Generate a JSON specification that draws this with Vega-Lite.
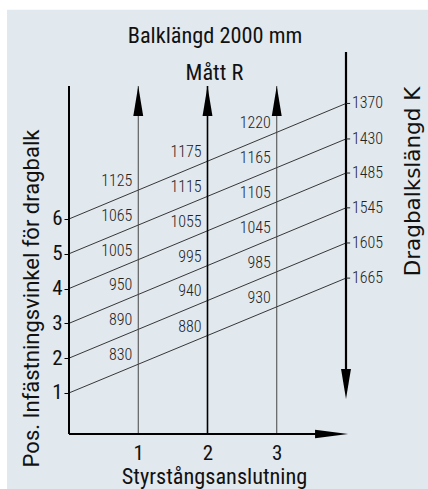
{
  "$schema": "https://vega.github.io/schema/vega-lite/v6.json",
  "width": 277,
  "height": 389,
  "autosize": {"type": "none"},
  "padding": {"left": 69, "top": 45, "right": 82, "bottom": 55},
  "background": "#ffffff",
  "config": {
    "view": {"stroke": null},
    "axis": {"grid": false, "zindex": 2},
    "font": "Roboto Condensed, Roboto, sans-serif"
  },
  "resolve": {"axis": {"x": "independent", "y": "independent"}},
  "datasets": {
    "lines": [
      {"pos": 1, "K": 1665, "ky": 4.30},
      {"pos": 2, "K": 1605, "ky": 5.31},
      {"pos": 3, "K": 1545, "ky": 6.32},
      {"pos": 4, "K": 1485, "ky": 7.32},
      {"pos": 5, "K": 1430, "ky": 8.30},
      {"pos": 6, "K": 1370, "ky": 9.32}
    ],
    "labels": [
      {"col": 1, "pos": 1, "R": 830, "yAt": 1.83},
      {"col": 2, "pos": 1, "R": 880, "yAt": 2.65},
      {"col": 3, "pos": 1, "R": 930, "yAt": 3.48},
      {"col": 1, "pos": 2, "R": 890, "yAt": 2.83},
      {"col": 2, "pos": 2, "R": 940, "yAt": 3.66},
      {"col": 3, "pos": 2, "R": 985, "yAt": 4.48},
      {"col": 1, "pos": 3, "R": 950, "yAt": 3.83},
      {"col": 2, "pos": 3, "R": 995, "yAt": 4.66},
      {"col": 3, "pos": 3, "R": 1045, "yAt": 5.49},
      {"col": 1, "pos": 4, "R": 1005, "yAt": 4.83},
      {"col": 2, "pos": 4, "R": 1055, "yAt": 5.66},
      {"col": 3, "pos": 4, "R": 1105, "yAt": 6.49},
      {"col": 1, "pos": 5, "R": 1065, "yAt": 5.83},
      {"col": 2, "pos": 5, "R": 1115, "yAt": 6.65},
      {"col": 3, "pos": 5, "R": 1165, "yAt": 7.48},
      {"col": 1, "pos": 6, "R": 1125, "yAt": 6.83},
      {"col": 2, "pos": 6, "R": 1175, "yAt": 7.66},
      {"col": 3, "pos": 6, "R": 1220, "yAt": 8.49}
    ],
    "columns": [{"c": 1}, {"c": 2}, {"c": 3}],
    "one": [{}]
  },
  "layer": [
    {
      "data": {"name": "one"},
      "mark": {"type": "rect", "color": "#e1e8ee"},
      "encoding": {
        "x": {"datum": -0.895, "type": "quantitative", "scale": {"domain": [0, 4], "nice": false, "zero": false}, "axis": null},
        "x2": {"datum": 5.4},
        "y": {"datum": -1.8, "type": "quantitative", "scale": {"domain": [-0.18, 11], "nice": false, "zero": false}, "axis": null},
        "y2": {"datum": 12.01}
      }
    },
    {
      "data": {"name": "lines"},
      "mark": {"type": "rule", "color": "#222222", "strokeWidth": 0.9},
      "encoding": {
        "x": {"datum": 0, "type": "quantitative", "axis": null},
        "x2": {"datum": 4},
        "y": {
          "field": "pos", "type": "quantitative",
          "axis": {
            "values": [1, 2, 3, 4, 5, 6], "format": "d", "zindex": 2,
            "domain": false, "ticks": true, "tickSize": 5, "tickColor": "#000000", "tickWidth": 1,
            "labelFontSize": 21, "labelColor": "#111111", "labelPadding": 2,
            "title": "Pos. Infästningsvinkel för dragbalk",
            "titleFont": "Roboto", "titleFontSize": 22, "titleFontWeight": "normal", "titleColor": "#111111",
            "titleAngle": 270, "titleX": -38, "titleY": 253, "titleAlign": "center", "titleBaseline": "middle"
          }
        },
        "y2": {"field": "ky"}
      }
    },
    {
      "data": {"name": "columns"},
      "mark": {"type": "rule"},
      "encoding": {
        "x": {
          "field": "c", "type": "quantitative",
          "axis": {
            "values": [1, 2, 3], "format": "d", "domain": false, "ticks": false, "zindex": 2,
            "labelPadding": 8, "labelFontSize": 21, "labelColor": "#111111",
            "title": "Styrstångsanslutning", "titleFontSize": 22.3, "titleFontWeight": "normal",
            "titleColor": "#111111", "titlePadding": 2, "titleX": 145
          }
        },
        "y": {"datum": -0.18, "type": "quantitative", "axis": null},
        "y2": {"datum": 9.82},
        "color": {"condition": {"test": "datum.c === 2", "value": "#000000"}, "value": "#444444"},
        "strokeWidth": {"condition": {"test": "datum.c === 2", "value": 1.6}, "value": 1}
      }
    },
    {
      "data": {"name": "columns"},
      "mark": {"type": "point", "shape": "M0,0L0.33,2L-0.33,2Z", "filled": true, "color": "#000000", "opacity": 1, "size": 900, "strokeWidth": 0},
      "encoding": {
        "x": {"field": "c", "type": "quantitative", "axis": null},
        "y": {"datum": 9.82, "type": "quantitative", "axis": null}
      }
    },
    {
      "data": {"name": "one"},
      "mark": {"type": "rule", "color": "#000000", "strokeWidth": 2},
      "encoding": {
        "x": {"datum": 0, "type": "quantitative", "axis": null},
        "y": {"datum": -0.18, "type": "quantitative", "axis": null},
        "y2": {"datum": 9.82}
      }
    },
    {
      "data": {"name": "one"},
      "mark": {"type": "rule", "color": "#000000", "strokeWidth": 2},
      "encoding": {
        "x": {"datum": 0, "type": "quantitative", "axis": null},
        "x2": {"datum": 3.9},
        "y": {"datum": -0.18, "type": "quantitative", "axis": null}
      }
    },
    {
      "data": {"name": "one"},
      "mark": {"type": "point", "shape": "M0,0L-2,-0.26L-2,0.26Z", "filled": true, "color": "#000000", "opacity": 1, "size": 1089, "strokeWidth": 0},
      "encoding": {
        "x": {"datum": 4.03, "type": "quantitative", "axis": null},
        "y": {"datum": -0.18, "type": "quantitative", "axis": null}
      }
    },
    {
      "data": {"name": "one"},
      "mark": {"type": "rule", "color": "#000000", "strokeWidth": 2.2},
      "encoding": {
        "x": {"datum": 4, "type": "quantitative", "axis": null},
        "y": {"datum": 1.2, "type": "quantitative", "axis": null},
        "y2": {"datum": 10.8}
      }
    },
    {
      "data": {"name": "one"},
      "mark": {"type": "point", "shape": "M0,0L0.33,-2L-0.33,-2Z", "filled": true, "color": "#000000", "opacity": 1, "size": 900, "strokeWidth": 0},
      "encoding": {
        "x": {"datum": 4, "type": "quantitative", "axis": null},
        "y": {"datum": 0.826, "type": "quantitative", "axis": null}
      }
    },
    {
      "data": {"name": "lines"},
      "mark": {"type": "rule", "color": "#222222", "strokeWidth": 1},
      "encoding": {
        "x": {"datum": 4, "type": "quantitative", "axis": null},
        "x2": {"datum": 4.06},
        "y": {"field": "ky", "type": "quantitative", "axis": null}
      }
    },
    {
      "data": {"name": "lines"},
      "mark": {"type": "text", "align": "left", "baseline": "middle", "dx": 6, "fontSize": 16, "fontWeight": 300, "color": "#222222"},
      "encoding": {
        "x": {"datum": 4, "type": "quantitative", "axis": null},
        "y": {
          "field": "ky", "type": "quantitative",
          "axis": {
            "orient": "right", "labels": false, "ticks": false, "domain": false, "zindex": 2,
            "title": "Dragbalkslängd K", "titleFont": "DejaVu Sans", "titleFontSize": 21.5, "titleFontWeight": "normal", "titleColor": "#111111",
            "titleAngle": 270, "titleX": 67, "titleY": 136, "titleAlign": "center", "titleBaseline": "middle"
          }
        },
        "text": {"field": "K", "type": "quantitative", "format": "d"}
      }
    },
    {
      "data": {"name": "labels"},
      "mark": {"type": "text", "align": "right", "baseline": "middle", "dx": -6, "dy": -9, "fontSize": 16, "fontWeight": 300, "color": "#222222"},
      "encoding": {
        "x": {"field": "col", "type": "quantitative", "axis": null},
        "y": {"field": "yAt", "type": "quantitative", "axis": null},
        "text": {"field": "R", "type": "quantitative", "format": "d"}
      }
    },
    {
      "data": {"name": "one"},
      "mark": {"type": "text", "align": "center", "baseline": "alphabetic", "fontSize": 22.3, "color": "#111111", "text": "Balklängd 2000 mm"},
      "encoding": {
        "x": {"datum": 2.108, "type": "quantitative", "axis": null},
        "y": {"datum": 11.06, "type": "quantitative", "axis": null}
      }
    },
    {
      "data": {"name": "one"},
      "mark": {"type": "text", "align": "center", "baseline": "alphabetic", "fontSize": 22.3, "color": "#111111", "text": "Mått R"},
      "encoding": {
        "x": {"datum": 2.1, "type": "quantitative", "axis": null},
        "y": {"datum": 9.995, "type": "quantitative", "axis": null}
      }
    }
  ]
}
